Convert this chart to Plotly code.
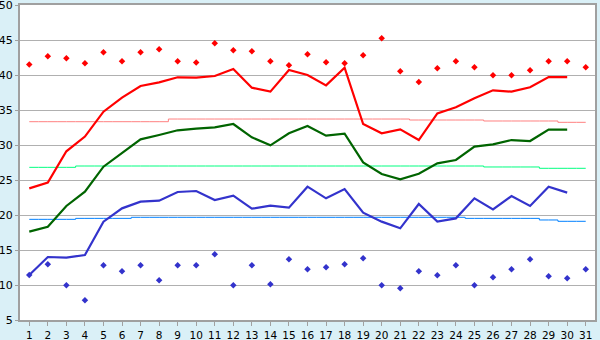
import plotly.graph_objects as go

days = list(range(1, 32))

record_high = [41.5, 42.67, 42.38, 41.67, 43.24, 41.95, 43.24, 43.67, 41.95, 41.8,
               44.52, 43.52, 43.38, 41.95, 41.38, 42.95, 41.81, 41.67, 42.81, 45.24,
               40.52, 39.0, 40.95, 41.95, 41.1, 39.95, 39.95, 40.67, 41.95, 41.95, 41.1]

high = [23.81, 24.62, 29.1, 31.2, 34.76, 36.76, 38.43, 38.95, 39.67, 39.62,
        39.86, 40.86, 38.19, 37.62, 40.71, 40.0, 38.52, 41.05, 33.0, 31.67,
        32.24, 30.71, 34.52, 35.38, 36.67, 37.81, 37.62, 38.24, 39.71, 39.71]

mean = [17.62, 18.33, 21.29, 23.33, 26.9, 28.81, 30.81, 31.43, 32.1, 32.33,
        32.52, 33.0, 31.1, 29.95, 31.67, 32.71, 31.33, 31.62, 27.52, 25.86,
        25.1, 25.9, 27.38, 27.86, 29.76, 30.1, 30.71, 30.57, 32.19, 32.19]

low = [11.43, 14.0, 13.9, 14.29, 19.05, 20.95, 21.9, 22.05, 23.29, 23.43,
       22.14, 22.76, 20.9, 21.33, 21.05, 24.05, 22.38, 23.71, 20.33, 19.05,
       18.1, 21.57, 19.05, 19.52, 22.38, 20.81, 22.71, 21.29, 24.05, 23.19]

record_low = [11.43, 12.95, 9.95, 7.81, 12.81, 11.95, 12.81, 10.67, 12.81, 12.81,
              14.38, 9.95, 12.81, 10.1, 13.67, 12.24, 12.52, 12.95, 13.81, 9.95,
              9.52, 11.95, 11.38, 12.81, 9.95, 11.1, 12.24, 13.67, 11.24, 10.95, 12.24]

normal_high = [33.33]*8 + [33.71]*13 + [33.57]*4 + [33.43]*4 + [33.24]*2
normal_mean = [26.81]*3 + [27.0]*22 + [26.86]*3 + [26.67]*3
normal_low = [19.38]*3 + [19.52]*3 + [19.67]*18 + [19.52]*4 + [19.29]*1 + [19.1]*2

fig = go.Figure()

fig.add_trace(go.Scatter(x=days, y=normal_high, mode="lines", line=dict(color="#FF8080", width=1, shape="hvh")))
fig.add_trace(go.Scatter(x=days, y=normal_mean, mode="lines", line=dict(color="#00FF80", width=1, shape="hvh")))
fig.add_trace(go.Scatter(x=days, y=normal_low, mode="lines", line=dict(color="#0080FF", width=1, shape="hvh")))

fig.add_trace(go.Scatter(x=days[:len(high)], y=high, mode="lines", line=dict(color="#FF0000", width=2.2)))
fig.add_trace(go.Scatter(x=days[:len(mean)], y=mean, mode="lines", line=dict(color="#006400", width=2.2)))
fig.add_trace(go.Scatter(x=days[:len(low)], y=low, mode="lines", line=dict(color="#3333CC", width=2.2)))

fig.add_trace(go.Scatter(x=days, y=record_high, mode="markers",
                         marker=dict(symbol="diamond", size=5, color="#FF0000")))
fig.add_trace(go.Scatter(x=days, y=record_low, mode="markers",
                         marker=dict(symbol="diamond", size=5, color="#3333CC")))

fig.update_layout(
    width=600, height=340,
    margin=dict(l=20, r=5, t=5, b=20),
    paper_bgcolor="#DAF0F7",
    plot_bgcolor="#FFFFFF",
    showlegend=False,
    font=dict(family="DejaVu Sans", size=11, color="#000000"),
)
fig.update_xaxes(range=[0.5, 31.5], tickmode="array", tickvals=days,
                 ticktext=[str(d) for d in days], ticks="outside", ticklen=4,
                 tickcolor="#A0A0A0", showgrid=False, showline=True,
                 linecolor="#A0A0A0", linewidth=2, mirror=True, zeroline=False,
                 automargin=False, ticklabeloverflow="allow",
                 tickfont=dict(size=10.5))
fig.update_yaxes(range=[5, 50], dtick=5, tick0=5, ticks="outside", ticklen=3,
                 tickcolor="#A0A0A0", showgrid=True, gridcolor="#B0B0B0", gridwidth=1,
                 showline=True, linecolor="#A0A0A0", linewidth=2, mirror=True, zeroline=False,
                 automargin=False, ticklabeloverflow="allow")

fig.write_html("out.html")
